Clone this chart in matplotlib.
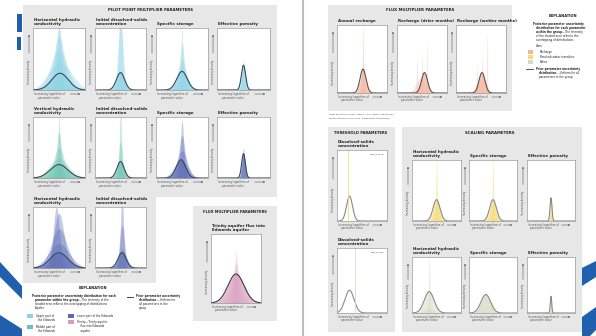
import numpy as np
import matplotlib
matplotlib.use("Agg")
import matplotlib.pyplot as plt
from matplotlib.patches import Rectangle, Polygon

plt.rcParams['font.family'] = ['Liberation Sans Narrow', 'DejaVu Sans']

W, H = 596, 336

# ---- data (x and y in fractions of each small panel) ----
# prior curves: (centre, spread, peak height)
pilot_titles = ["Horizontal hydraulic\nconductivity", "Initial dissolved-solids\nconcentration",
                "Specific storage", "Effective porosity",
                "Vertical hydraulic\nconductivity", "Initial dissolved-solids\nconcentration",
                "Specific storage", "Effective porosity",
                "Horizontal hydraulic\nconductivity", "Initial dissolved-solids\nconcentration"]
pilot_zone = ["upper", "upper", "upper", "upper",
              "middle", "middle", "lower", "lower",
              "lower", "lower"]
pilot_prior = [(0.52, 0.16, 0.27), (0.50, 0.08, 0.28), (0.50, 0.10, 0.30), (0.50, 0.04, 0.40),
               (0.50, 0.17, 0.22), (0.50, 0.07, 0.27), (0.48, 0.09, 0.30), (0.50, 0.035, 0.40),
               (0.50, 0.17, 0.25), (0.53, 0.08, 0.25)]
# posterior layers: list of (centre, spread, peak height)
pilot_post = [
    [(0.52, 0.22, 0.45), (0.50, 0.16, 0.65), (0.50, 0.11, 0.85), (0.50, 0.07, 1.00), (0.50, 0.04, 1.05)],
    [(0.50, 0.035, 1.30), (0.50, 0.05, 1.10), (0.50, 0.08, 0.30)],
    [(0.50, 0.02, 1.00), (0.50, 0.045, 0.75), (0.50, 0.08, 0.50), (0.50, 0.11, 0.35)],
    [(0.50, 0.02, 0.50), (0.50, 0.035, 0.40)],
    [(0.50, 0.02, 1.00), (0.50, 0.05, 0.75), (0.50, 0.10, 0.50), (0.50, 0.18, 0.32)],
    [(0.50, 0.02, 1.20), (0.50, 0.04, 0.60), (0.50, 0.07, 0.30)],
    [(0.50, 0.03, 0.95), (0.50, 0.06, 0.70), (0.50, 0.10, 0.45), (0.48, 0.13, 0.30)],
    [(0.50, 0.02, 0.50), (0.50, 0.03, 0.40)],
    [(0.45, 0.06, 1.00), (0.50, 0.10, 0.90), (0.50, 0.15, 0.65), (0.50, 0.20, 0.40)],
    [(0.53, 0.03, 1.20), (0.53, 0.05, 0.70), (0.53, 0.09, 0.30)],
]
trinity_prior = (0.50, 0.16, 0.42)
trinity_post = [(0.50, 0.03, 0.75), (0.50, 0.06, 0.60), (0.50, 0.10, 0.48), (0.50, 0.16, 0.42)]

recharge_titles = ["Annual recharge", "Recharge (drier months)", "Recharge (wetter months)"]
recharge_prior = [(0.52, 0.06, 0.35), (0.55, 0.06, 0.30), (0.52, 0.06, 0.30)]
recharge_post = [
    [(0.52, 0.012, 1.05), (0.52, 0.03, 0.45), (0.52, 0.05, 0.30)],
    [(0.40, 0.01, 0.50), (0.50, 0.01, 0.62), (0.60, 0.008, 0.75), (0.53, 0.06, 0.30),
     (0.47, 0.09, 0.22)],
    [(0.42, 0.01, 0.40), (0.52, 0.01, 0.55), (0.62, 0.008, 0.90), (0.52, 0.06, 0.32),
     (0.50, 0.09, 0.22)],
]

threshold_titles = ["Dissolved-solids\nconcentration", "Dissolved-solids\nconcentration"]
threshold_tags = ["High_thresh", "Low_thresh"]
threshold_prior = [(0.25, 0.06, 0.35), (0.25, 0.09, 0.35)]
threshold_line = [0.22, 0.35]
threshold_zone = ["brackish", "saline"]

scaling_titles = ["Horizontal hydraulic\nconductivity", "Specific storage", "Effective porosity",
                  "Horizontal hydraulic\nconductivity", "Specific storage", "Effective porosity"]
scaling_zone = ["brackish", "brackish", "brackish", "saline", "saline", "saline"]
scaling_prior = [(0.50, 0.07, 0.35), (0.50, 0.07, 0.35), (0.50, 0.02, 0.38),
                 (0.35, 0.10, 0.38), (0.35, 0.10, 0.33), (0.50, 0.015, 0.30)]
scaling_post = [
    [(0.50, 0.012, 1.05), (0.50, 0.05, 0.32)],
    [(0.50, 0.012, 1.05), (0.50, 0.05, 0.32)],
    [(0.50, 0.01, 0.36)],
    [(0.35, 0.012, 1.05), (0.35, 0.08, 0.10)],
    [(0.35, 0.10, 0.33)],
    [(0.50, 0.008, 0.30)],
]

zone_colors = {"upper": "#8fd3e4", "middle": "#6cc3b0", "lower": "#5a6bb4",
               "trinity": "#d99bbb", "recharge": "#f6b49a",
               "brackish": "#f5dc7a", "saline": "#d6dcc4"}

# ---- layout in pixels ----
pilot_boxes = [(33, 28, 85, 90), (95, 28, 146, 90), (156, 28, 208, 90), (217, 28, 270, 90),
               (33, 117, 85, 178), (95, 117, 146, 178), (156, 117, 208, 178), (217, 117, 270, 178),
               (33, 207, 85, 268), (95, 207, 146, 268)]
trinity_box = (211, 234, 261, 303)
recharge_boxes = [(337, 25, 387, 93), (397, 25, 447, 93), (456, 25, 506, 93)]
threshold_boxes = [(337, 150, 387, 221), (337, 248, 387, 313)]
scaling_boxes = [(412, 160, 461, 221), (469, 160, 517, 221), (527, 160, 575, 221),
                 (412, 257, 461, 313), (469, 257, 517, 313), (527, 257, 575, 313)]

fig = plt.figure(figsize=(W / 100, H / 100), dpi=100)
fig.patch.set_facecolor("white")
bg = fig.add_axes([0, 0, 1, 1])
bg.set_xlim(0, W)
bg.set_ylim(H, 0)
bg.axis("off")
renderer = fig.canvas.get_renderer()

GRAY = "#e7e7e7"
TXT = "#222222"
TITLE_FS = 2.9
SMALL_FS = 1.9

# gray group backgrounds
bg.add_patch(Polygon([(23, 5), (277, 5), (277, 197), (156, 197), (156, 283), (23, 283)],
                     closed=True, fc=GRAY, ec="none"))
bg.add_patch(Rectangle((193, 206), 84, 115, fc=GRAY, ec="none"))
bg.add_patch(Rectangle((328, 5), 184, 106, fc=GRAY, ec="none"))
bg.add_patch(Rectangle((328, 127), 67, 205, fc=GRAY, ec="none"))
bg.add_patch(Rectangle((402, 127), 180, 205, fc=GRAY, ec="none"))

# page divider and blue slide decorations
bg.plot([303, 303], [0, H], color="#bdbdbd", lw=1.5)
BLUE = "#1f5fae"
bg.add_patch(Rectangle((17, 14), 5, 18, fc=BLUE, ec="none"))
bg.add_patch(Rectangle((17, 37), 4, 13, fc=BLUE, ec="none"))
bg.add_patch(Polygon([(0, 262), (22, 286), (22, 299), (0, 277)], fc=BLUE, ec="none"))
bg.add_patch(Polygon([(0, 315), (22, 329), (22, 336), (0, 336)], fc=BLUE, ec="none"))
bg.add_patch(Polygon([(582, 268), (596, 261), (596, 277), (582, 286)], fc=BLUE, ec="none"))
bg.add_patch(Polygon([(582, 317), (596, 307), (596, 330), (590, 336), (582, 336)],
                     fc=BLUE, ec="none"))

x = np.linspace(0, 1, 400)


def bump(mu, s, peak):
    return peak * np.exp(-0.5 * ((x - mu) / s) ** 2)


def mixed(x0, y, parts, fs=2.2):
    """Write a line made of (text, bold) parts one after another."""
    for text, bold in parts:
        t = bg.text(x0, y, text, fontsize=fs, color=TXT, va="center",
                    fontweight="bold" if bold else "normal")
        ext = t.get_window_extent(renderer)
        x0 += ext.width * W / fig.bbox.width


def draw_panel(box, title, prior, post, color, line_color, fill_prior=True, alpha=0.4,
               title_y=None):
    x0, y0, x1, y1 = box
    ax = fig.add_axes([x0 / W, 1 - y1 / H, (x1 - x0) / W, (y1 - y0) / H])
    for mu, s, peak in post:
        ax.fill_between(x, 0, bump(mu, s, peak), color=color, alpha=alpha, lw=0)
    yp = bump(*prior)
    if fill_prior:
        ax.fill_between(x, 0, yp, color=color, alpha=0.55, lw=0)
    ax.plot(x, yp, color=line_color, lw=0.8)
    ax.set_xlim(0, 1)
    ax.set_ylim(0, 1)
    ax.set_xticks([])
    ax.set_yticks([])
    for sp in ax.spines.values():
        sp.set_color("#9a9a9a")
        sp.set_linewidth(0.5)
    ax.set_facecolor("white")
    # title
    ty = y0 - 2 if title_y is None else title_y
    bg.text(x0 + 1, ty, title, fontsize=TITLE_FS, fontweight="bold", color=TXT,
            ha="left", va="bottom", linespacing=1.0)
    # axis labels
    w, h = x1 - x0, y1 - y0
    bg.text(x0 + 1, y1 + 4, "Increasing logarithm of", fontsize=SMALL_FS, color="#555555",
            ha="left", va="center")
    bg.text(x0 + 0.3 * w, y1 + 7.5, "parameter value", fontsize=SMALL_FS, color="#555555",
            ha="center", va="center")
    bg.annotate("", xy=(x1 - 2, y1 + 4), xytext=(x0 + 0.66 * w, y1 + 4),
                arrowprops=dict(arrowstyle="-|>", lw=0.4, color="#555555",
                                mutation_scale=2))
    bg.text(x0 - 4, y1 - 0.3 * h, "Increasing density", fontsize=SMALL_FS, color="#555555",
            rotation=90, ha="center", va="center")
    bg.annotate("", xy=(x0 - 4, y0 + 4), xytext=(x0 - 4, y1 - 0.55 * h),
                arrowprops=dict(arrowstyle="-|>", lw=0.4, color="#555555",
                                mutation_scale=2))
    return ax


# left page
bg.text(150, 10, "PILOT POINT MULTIPLIER PARAMETERS", fontsize=2.8, fontweight="bold",
        color=TXT, ha="center", va="center")
for box, title, prior, post, zone in zip(pilot_boxes, pilot_titles, pilot_prior,
                                         pilot_post, pilot_zone):
    draw_panel(box, title, prior, post, zone_colors[zone], "#34495e", alpha=0.35)

bg.text(235, 212, "FLUX MULTIPLIER PARAMETERS", fontsize=2.6, fontweight="bold",
        color=TXT, ha="center", va="center")
draw_panel(trinity_box, "Trinity aquifer flux into\nEdwards aquifer", trinity_prior,
           trinity_post, zone_colors["trinity"], "#3a3a4a", alpha=0.25, title_y=232)

# left explanation
bg.text(93, 288, "EXPLANATION", fontsize=2.6, fontweight="bold", color=TXT,
        ha="center", va="center")
fs = 2.0
mixed(32, 296, [("Posterior parameter uncertainty distribution for each", True)], fs)
mixed(35, 300, [("parameter within the group", True), ("\u2014The intensity of the", False)], fs)
mixed(35, 304, [("shaded area reflects the overlapping of distributions", False)], fs)
mixed(35, 308.5, [("Aquifer", False)], fs)
legend_items = [(27, 314, "upper", "Upper part of\n  the Edwards"),
                (27, 325, "middle", "Middle part of\n  the Edwards"),
                (68, 314, "lower", "Lower part of the Edwards"),
                (68, 320, "trinity", "Trinity\u2014Trinity aquifer\n    flux into Edwards\n    aquifer")]
for lx, ly, zone, label in legend_items:
    bg.add_patch(Rectangle((lx, ly), 6, 4, fc=zone_colors[zone], ec="none"))
    bg.text(lx + 9, ly, label, fontsize=fs, color=TXT, va="top", linespacing=1.1)
bg.plot([127, 133], [297, 297], color="#34495e", lw=0.7)
mixed(136, 296, [("Prior parameter uncertainty", True)], fs)
mixed(139, 300, [("distribution", True), ("\u2014Uniform for", False)], fs)
mixed(139, 304, [("all parameters in the", False)], fs)
mixed(139, 308, [("group.", False)], fs)

# right page: flux multipliers
bg.text(420, 10, "FLUX MULTIPLIER PARAMETERS", fontsize=2.8, fontweight="bold",
        color=TXT, ha="center", va="center")
for box, title, prior, post in zip(recharge_boxes, recharge_titles, recharge_prior,
                                   recharge_post):
    draw_panel(box, title, prior, post, zone_colors["recharge"], "#555555",
               fill_prior=True, alpha=0.35)
bg.text(329, 114, "Drier months (January\u2013March, July\u2013August, December)",
        fontsize=1.7, color="#444444", va="center")
bg.text(329, 118, "Wetter months (April\u2013June, September\u2013November)",
        fontsize=1.7, color="#444444", va="center")

# right explanation
bg.text(563, 16, "EXPLANATION", fontsize=2.6, fontweight="bold", color=TXT,
        ha="center", va="center")
mixed(533, 24, [("Posterior parameter uncertainty", True)], fs)
mixed(536, 28, [("distribution for each parameter", True)], fs)
mixed(536, 32, [("within the group", True), ("\u2014The intensity", False)], fs)
mixed(536, 36, [("of the shaded area reflects the", False)], fs)
mixed(536, 40, [("overlapping of distributions", False)], fs)
mixed(536, 46, [("Zone", False)], fs)
for ly, zone, label in [(50, "recharge", "Recharge"),
                        (55, "brackish", "Brackish-water transition"),
                        (60, "saline", "Saline")]:
    bg.add_patch(Rectangle((528, ly), 5, 3.5, fc=zone_colors[zone], ec="none"))
    bg.text(540, ly + 1.8, label, fontsize=fs, color=TXT, va="center")
bg.plot([526, 533], [69, 69], color="#555555", lw=0.7)
mixed(536, 69, [("Prior parameter uncertainty", True)], fs)
mixed(539, 73, [("distribution", True), ("\u2014Uniform for all", False)], fs)
mixed(539, 77, [("parameters in the group", False)], fs)

# threshold parameters
bg.text(361, 133, "THRESHOLD PARAMETERS", fontsize=2.6, fontweight="bold", color=TXT,
        ha="center", va="center")
for box, title, tag, prior, lx, zone in zip(threshold_boxes, threshold_titles,
                                            threshold_tags, threshold_prior,
                                            threshold_line, threshold_zone):
    ax = draw_panel(box, title, prior, [], zone_colors[zone], "#8a8a8a", fill_prior=False)
    ax.axvline(lx, color=zone_colors[zone], lw=0.6)
    ax.text(0.95, 0.95, tag, transform=ax.transAxes, fontsize=1.7, color="#444444",
            ha="right", va="top")

# scaling parameters
bg.text(490, 133, "SCALING PARAMETERS", fontsize=2.8, fontweight="bold", color=TXT,
        ha="center", va="center")
for box, title, prior, post, zone in zip(scaling_boxes, scaling_titles, scaling_prior,
                                         scaling_post, scaling_zone):
    draw_panel(box, title, prior, post, zone_colors[zone], "#8a8a8a", fill_prior=True,
               alpha=0.55)

fig.savefig("out.png", dpi=100, facecolor="white")
